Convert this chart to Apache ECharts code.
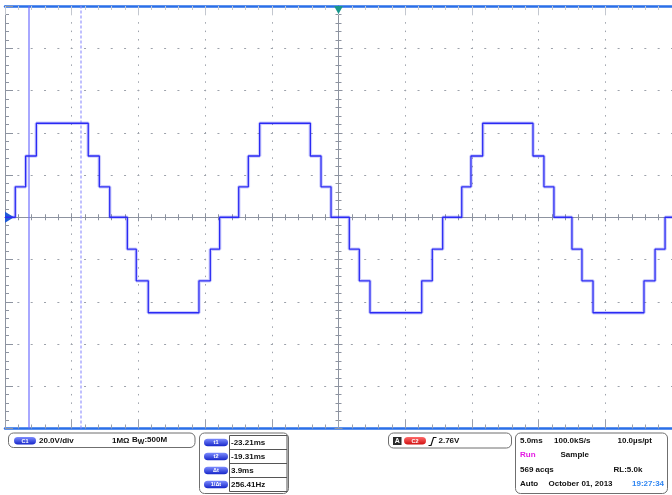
<!DOCTYPE html>
<html>
<head>
<meta charset="utf-8">
<script src="https://cdn.jsdelivr.net/npm/echarts@6/dist/echarts.min.js"></script>
<style>
  html, body { margin: 0; padding: 0; background: #fff; }
  #main { width: 672px; height: 495px; }
</style>
</head>
<body>
<div id="main"></div>
<script>
// time of each step on CH1 (ms, 0 = trigger) and the level it steps to (V)
var edgeTimes = [-25, -24.23, -23.45, -22.65, -18.76, -17.93, -17.15, -15.83, -15.16, -14.26,
  -10.46, -9.61, -8.91, -7.48, -6.76, -5.91, -2.11, -1.31, -0.56, 0.81, 1.56, 2.36,
  6.24, 7.03, 7.81, 9.24, 9.93, 10.81, 14.58, 15.40, 16.15, 17.50, 18.25, 19.08,
  22.90, 23.73, 24.48, 25];
var edgeLevels = [0, 14.4, 29, 44.5, 29, 14.4, 0, -15.1, -30.1, -45.2,
  -30.1, -15.1, 0, 14.4, 29, 44.5, 29, 14.4, 0, -15.1, -30.1, -45.2,
  -30.1, -15.1, 0, 14.4, 29, 44.5, 29, 14.4, 0, -15.1, -30.1, -45.2,
  -30.1, -15.1, 0, 0];

// cursors (ms)
var cursorTimes = [-23.21, -19.31];

// readouts
var ch1Readout = ['20.0V/div', '1MΩ'];
var cursorTags = ['t1', 't2', 'Δt', '1/Δt'];
var cursorValues = ['-23.21ms', '-19.31ms', '3.9ms', '256.41Hz'];
var trigLevel = '2.76V';
var acqRows = [
  [['5.0ms', 520], ['100.0kS/s', 554], ['10.0µs/pt', 617.5]],
  [['Run', 520], ['Sample', 560.5]],
  [['569 acqs', 520], ['RL:5.0k', 613.5]],
  [['Auto', 520], ['October 01, 2013', 548.5], ['19:27:34', 632]]
];

var trace = edgeTimes.map(function (t, i) { return [t, edgeLevels[i]]; });

var FONT = 'bold 8px "Liberation Sans", Arial, sans-serif';
var gridGray = '#8d93a0';
var scopeBlue = '#2a6fe8';

function axisX(extra) {
  return Object.assign({
    type: 'value', min: -25, max: 25, interval: 5,
    axisLabel: { show: false },
    splitLine: { show: false }
  }, extra);
}
function axisY(extra) {
  return Object.assign({
    type: 'value', min: -100, max: 100, interval: 20,
    axisLabel: { show: false },
    splitLine: { show: false }
  }, extra);
}

function pill(x, y, w, label, c1, c2) {
  return {
    type: 'group',
    children: [
      { type: 'rect', shape: { x: x, y: y, width: w, height: 7.5, r: 3.75 },
        style: { fill: new echarts.graphic.LinearGradient(0, 0, 0, 1, [
          { offset: 0, color: c1 }, { offset: 1, color: c2 }]) } },
      { type: 'text', x: x + w / 2, y: y + 4,
        style: { text: label, fill: '#fff', font: 'bold 5.5px "Liberation Sans", Arial',
          align: 'center', verticalAlign: 'middle' } }
    ]
  };
}
function txt(s, x, y, color) {
  return { type: 'text', x: x, y: y,
    style: { text: s, fill: color || '#111', font: FONT, verticalAlign: 'middle' } };
}
function box(x, y, w, h) {
  return { type: 'rect', shape: { x: x, y: y, width: w, height: h, r: 5 },
    style: { fill: 'none', stroke: '#6f6f6f', lineWidth: 1 } };
}

var graphics = [];
// CH1 box
graphics.push(box(8.5, 433, 186.5, 14.5));
graphics.push(pill(14, 437, 22, 'C1', '#7d8cff', '#1626c9'));
graphics.push(txt(ch1Readout[0], 39, 441));
graphics.push(txt(ch1Readout[1], 112, 441));
graphics.push({ type: 'text', x: 132, y: 441, style: {
  text: '{b|B}{w|W}{b|:500M}', font: FONT, fill: '#111', verticalAlign: 'middle',
  rich: { b: { font: FONT, fill: '#111', padding: [0, 0, 3, 0] },
          w: { font: 'bold 7px "Liberation Sans", Arial', fill: '#111', padding: [3, 0, 0, 0] } } } });

// cursor box
graphics.push(box(199.5, 433, 89, 60.5));
graphics.push({ type: 'rect', shape: { x: 229.5, y: 435.5, width: 57.5, height: 56 },
  style: { fill: 'none', stroke: '#555', lineWidth: 1 } });
[449.5, 463.5, 477.5].forEach(function (yy) {
  graphics.push({ type: 'line', shape: { x1: 229.5, y1: yy, x2: 287, y2: yy },
    style: { stroke: '#555', lineWidth: 1 } });
});
cursorTags.forEach(function (tag, i) {
  var cy = 442.5 + i * 14;
  graphics.push(pill(204, cy - 3.75, 24, tag, '#7d8cff', '#1626c9'));
  graphics.push(txt(cursorValues[i], 231, cy));
});

// trigger box
graphics.push(box(388.5, 433, 123, 15));
graphics.push({ type: 'rect', shape: { x: 393, y: 437, width: 8.5, height: 8 }, style: { fill: '#2b2b2b' } });
graphics.push({ type: 'text', x: 397.3, y: 441.2, style: { text: 'A', fill: '#fff',
  font: 'bold 7px "Liberation Sans", Arial', align: 'center', verticalAlign: 'middle' } });
graphics.push(pill(404, 437, 22, 'C2', '#ff6a6a', '#d01010'));
graphics.push({ type: 'polyline', shape: { points: [[428.5, 445.5], [431, 445.5], [433.5, 437.5], [436.5, 437.5]] },
  style: { stroke: '#111', lineWidth: 1.2, fill: 'none' } });
graphics.push(txt(trigLevel, 438.5, 441));

// acquisition box
graphics.push(box(515.5, 433, 152, 60.5));
acqRows.forEach(function (row, r) {
  var cy = 441 + r * 14.2;
  row.forEach(function (cell) {
    var col = cell[0] === 'Run' ? '#e41ae4' : (cell[0] === '19:27:34' ? '#2f86f2' : '#111');
    graphics.push(txt(cell[0], cell[1], cy, col));
  });
});

var chart = echarts.init(document.getElementById('main'), null, { renderer: 'canvas' });
chart.setOption({
  animation: false,
  backgroundColor: '#fff',
  grid: { left: 5, right: 0, top: 6, bottom: 66.5 },
  xAxis: [
    axisX({ position: 'bottom',
      axisLine: { onZero: false, lineStyle: { color: scopeBlue, width: 2.5 } },
      axisTick: { inside: true, length: 9, lineStyle: { color: '#9aa0ac' } },
      minorTick: { show: true, splitNumber: 5, length: 4, lineStyle: { color: '#9aa0ac' } },
      splitLine: { show: true, showMinLine: false, showMaxLine: false,
        lineStyle: { color: '#9da2ab', width: 1, type: [1.5, 6.95], dashOffset: 0.75 } } }),
    axisX({ position: 'top',
      axisLine: { onZero: false, lineStyle: { color: scopeBlue, width: 2.5 } },
      axisTick: { inside: true, length: 9, lineStyle: { color: '#c3c7cf' } },
      minorTick: { show: true, splitNumber: 5, length: 4, lineStyle: { color: '#c3c7cf' } } }),
    axisX({ position: 'bottom',
      axisLine: { onZero: true, onZeroAxisIndex: 0, lineStyle: { color: gridGray, width: 1 } },
      axisTick: { inside: true, length: 4, lineStyle: { color: gridGray } },
      minorTick: { show: true, splitNumber: 5, length: 3, lineStyle: { color: gridGray } } }),
    axisX({ position: 'bottom',
      axisLine: { onZero: true, onZeroAxisIndex: 0, lineStyle: { color: gridGray, width: 1 } },
      axisTick: { inside: false, length: 4, lineStyle: { color: gridGray } },
      minorTick: { show: true, splitNumber: 5, length: 3, lineStyle: { color: gridGray } } })
  ],
  yAxis: [
    axisY({ position: 'left',
      axisLine: { onZero: false, lineStyle: { color: gridGray, width: 1 } },
      axisTick: { inside: true, length: 8, lineStyle: { color: gridGray } },
      minorTick: { show: true, splitNumber: 5, length: 4, lineStyle: { color: gridGray } },
      splitLine: { show: true, showMinLine: false, showMaxLine: false,
        lineStyle: { color: '#9da2ab', width: 1, type: [2, 11.34], dashOffset: 1 } } }),
    axisY({ position: 'left',
      axisLine: { onZero: true, onZeroAxisIndex: 0, lineStyle: { color: gridGray, width: 1 } },
      axisTick: { inside: true, length: 4, lineStyle: { color: gridGray } },
      minorTick: { show: true, splitNumber: 5, length: 3, lineStyle: { color: gridGray } } }),
    axisY({ position: 'left',
      axisLine: { onZero: true, onZeroAxisIndex: 0, lineStyle: { color: gridGray, width: 1 } },
      axisTick: { inside: false, length: 4, lineStyle: { color: gridGray } },
      minorTick: { show: true, splitNumber: 5, length: 3, lineStyle: { color: gridGray } } })
  ],
  series: [
    {
      // fuzzy band of the noisy trace
      type: 'line', step: 'end', data: trace, symbol: 'none', silent: true,
      lineStyle: { color: 'rgba(60,60,245,0.25)', width: 3.5 }, z: 4
    },
    {
      type: 'line', step: 'end', data: trace, symbol: 'none', z: 5,
      lineStyle: { color: '#2a2af4', width: 1.3 },
      markLine: {
        silent: true, symbol: ['none', 'none'], label: { show: false },
        data: [
          { xAxis: cursorTimes[0], lineStyle: { color: 'rgba(110,110,255,0.6)', width: 2, type: 'solid' } },
          { xAxis: cursorTimes[1], lineStyle: { color: 'rgba(140,140,255,0.55)', width: 2, type: [3, 2] } }
        ]
      },
      markPoint: {
        silent: true, label: { show: false },
        data: [
          { coord: [-25, 0], symbol: 'path://M0,0L10,6L0,12Z', symbolSize: [9, 11],
            symbolOffset: [4.5, 0], itemStyle: { color: '#1f5ad6' } },
          { coord: [0, 100], symbol: 'path://M0,0L10,0L5,8Z', symbolSize: [9, 8],
            symbolOffset: [0, 4], itemStyle: { color: '#17968c' } }
        ]
      }
    }
  ],
  graphic: graphics
});
</script>
</body>
</html>
